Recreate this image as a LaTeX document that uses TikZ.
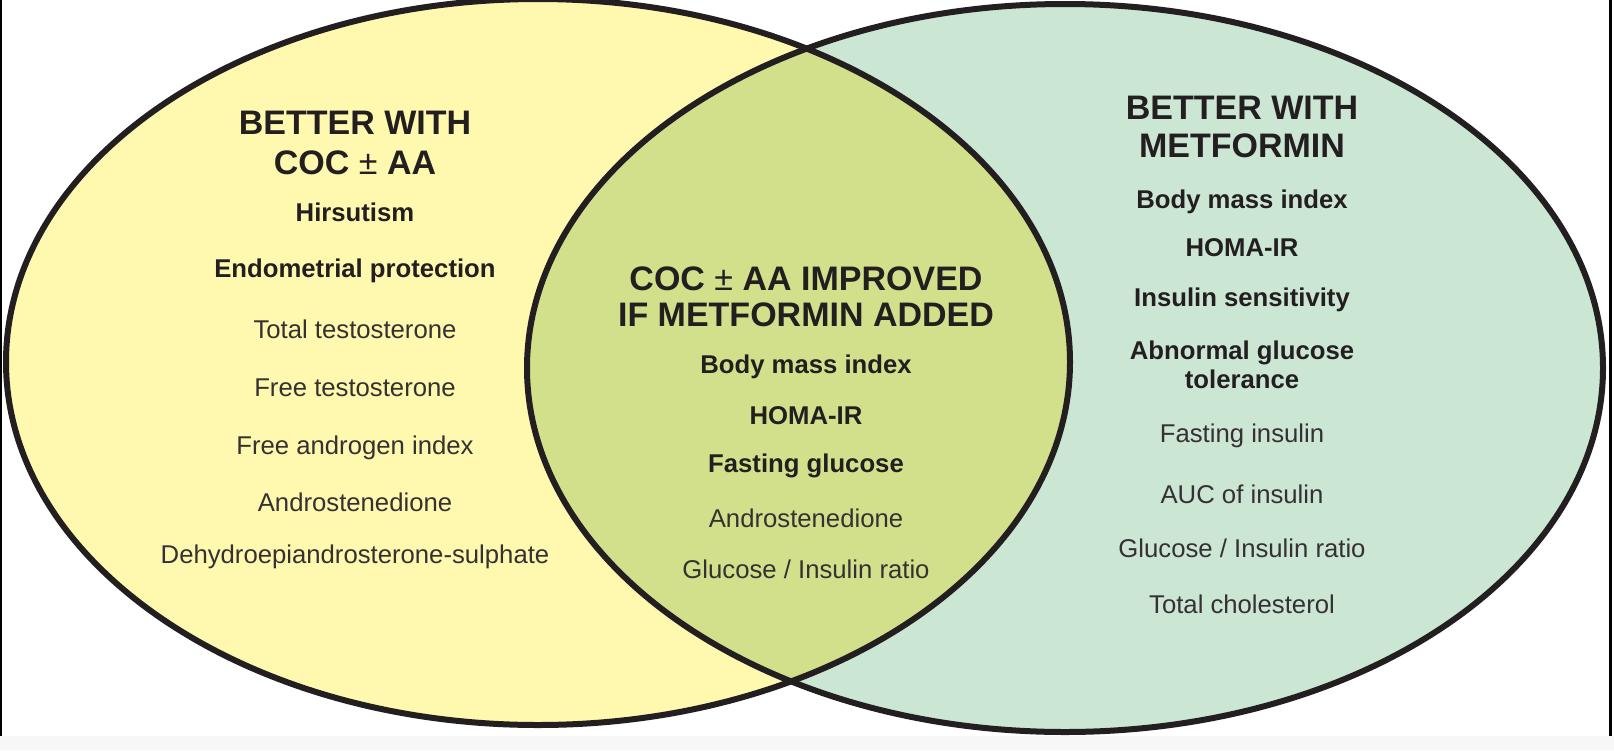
\documentclass[tikz,border=0pt]{standalone}
\usepackage{fontspec}
\setmainfont{Liberation Sans}
\definecolor{ink}{HTML}{231F20}
\definecolor{yel}{HTML}{FFF8AF}
\definecolor{mint}{HTML}{CCE6D4}
\definecolor{lens}{HTML}{D3E08B}
\definecolor{strip}{HTML}{F7F7F7}
\begin{document}
\begin{tikzpicture}[x=1pt,y=-1pt,
  head/.style={anchor=base,inner sep=0pt,text=ink,font=\fontsize{34}{39}\selectfont\bfseries},
  bitem/.style={anchor=base,inner sep=0pt,text=ink,font=\fontsize{25.7}{30}\selectfont\bfseries},
  item/.style={anchor=base,inner sep=0pt,text=ink!92,font=\fontsize{25.7}{30}\selectfont},
  outline/.style={draw=ink,line width=6pt}]
\useasboundingbox (0,0) rectangle (1614,750);
\fill[white] (0,0) rectangle (1614,750);
\fill[strip] (0,736) rectangle (1614,750);
\fill[black] (0,0) rectangle (1.5,736);
\fill[black] (1609,0) rectangle (1611.5,736);
% circles
\fill[yel] (538,362) ellipse [x radius=532pt, y radius=363pt];
\fill[mint] (1065,368) ellipse [x radius=538pt, y radius=364pt];
\begin{scope}
  \clip (538,362) ellipse [x radius=532pt, y radius=363pt];
  \fill[lens] (1065,368) ellipse [x radius=538pt, y radius=364pt];
\end{scope}
\draw[outline] (538,362) ellipse [x radius=532pt, y radius=363pt];
\draw[outline] (1065,368) ellipse [x radius=538pt, y radius=364pt];
% left
\node[head] (lh1) at (355,134) {BETTER WITH};
\node[head] (lh2) at (355,174) {COC {\mdseries ±} AA};
\node[bitem] (l1) at (355,221) {Hirsutism};
\node[bitem] (l2) at (355,277) {Endometrial protection};
\node[item] (l3) at (355,338) {Total testosterone};
\node[item] (l4) at (355,396) {Free testosterone};
\node[item] (l5) at (355,454) {Free androgen index};
\node[item] (l6) at (355,511) {Androstenedione};
\node[item] (l7) at (355,563) {Dehydroepiandrosterone-sulphate};
% centre
\node[head] (ch1) at (806,290) {COC {\mdseries ±} AA IMPROVED};
\node[head] (ch2) at (806,326) {IF METFORMIN ADDED};
\node[bitem] (c1) at (806,373) {Body mass index};
\node[bitem] (c2) at (806,424) {HOMA-IR};
\node[bitem] (c3) at (806,472) {Fasting glucose};
\node[item] (c4) at (806,527) {Androstenedione};
\node[item] (c5) at (806,578) {Glucose / Insulin ratio};
% right
\node[head] (rh1) at (1242,119) {BETTER WITH};
\node[head] (rh2) at (1242,157) {METFORMIN};
\node[bitem] (r1) at (1242,208) {Body mass index};
\node[bitem] (r2) at (1242,256) {HOMA-IR};
\node[bitem] (r3) at (1242,306) {Insulin sensitivity};
\node[bitem] (r4) at (1242,359) {Abnormal glucose};
\node[bitem] (r5) at (1242,388) {tolerance};
\node[item] (r6) at (1242,442) {Fasting insulin};
\node[item] (r7) at (1242,503) {AUC of insulin};
\node[item] (r8) at (1242,557) {Glucose / Insulin ratio};
\node[item] (r9) at (1242,613) {Total cholesterol};
\end{tikzpicture}
\end{document}
